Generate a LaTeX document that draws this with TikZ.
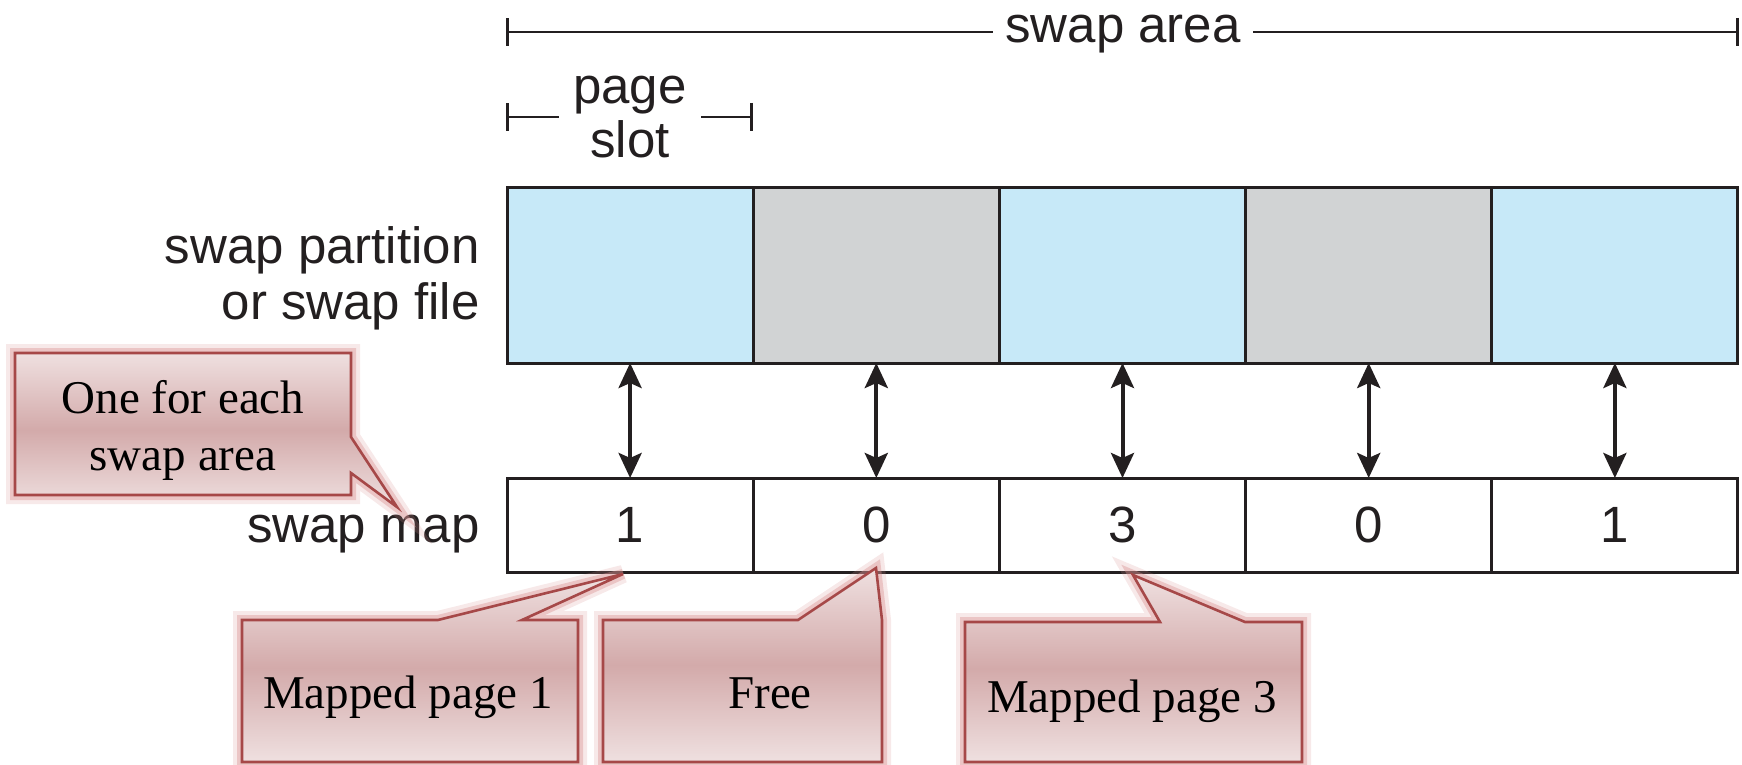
\documentclass[tikz,border=0pt]{standalone}
\usepackage{fontspec}
\setmainfont{Liberation Sans}
\newfontfamily\calloutfont{Liberation Serif}
\usetikzlibrary{arrows.meta}
\definecolor{slotblue}{HTML}{C7E9F8}
\definecolor{slotgray}{HTML}{D1D3D4}
\definecolor{ink}{HTML}{231F20}
\definecolor{calloutedge}{HTML}{A64848}
\definecolor{calloutlight}{HTML}{EFE0E0}
\definecolor{calloutdark}{HTML}{D3AAAA}
\definecolor{calloutglow}{HTML}{D89090}
\begin{document}
\begin{tikzpicture}[x=0.5pt,y=-0.5pt,
  label/.style={font=\fontsize{25.5}{28}\selectfont,text=ink,inner sep=0pt},
  slot/.style={draw=ink,line width=1.5pt,minimum width=123pt,minimum height=87.5pt,outer sep=0pt,inner sep=0pt},
  mapcell/.style={slot,minimum height=47pt,fill=white,font=\fontsize{25.5}{28}\selectfont,text=ink},
  link/.style={ink,line width=2pt,{Stealth[length=12.5pt,width=11.5pt,inset=2.5pt]}-{Stealth[length=12.5pt,width=11.5pt,inset=2.5pt]}},
  dim/.style={ink,line width=1.3pt,{Bar[width=14pt]}-{Bar[width=14pt]}},
  callout/.style={draw=calloutedge,line width=1.3pt,top color=calloutlight,bottom color=calloutlight,middle color=calloutdark,
    preaction={draw=calloutglow,line width=9pt,opacity=0.2},
    preaction={draw=calloutglow,line width=5pt,opacity=0.4}},
  callouttext/.style={font=\calloutfont\fontsize{23.5}{28.5}\selectfont,align=center,inner sep=0pt}]
\useasboundingbox (0,0) rectangle (1742,765);
% dimension lines
\coordinate (areaL) at (506,32);
\coordinate (areaR) at (1739,32);
\draw[dim] (areaL) -- (areaR);
\node[label,fill=white,inner xsep=6pt,anchor=base] (areatext) at (1123,43) {swap area};
\coordinate (slotL) at (506,117);
\coordinate (slotR) at (753,117);
\draw[dim] (slotL) -- (slotR);
\node[label,fill=white,inner xsep=7pt,align=center,font=\fontsize{25.5}{27}\selectfont] (slottext) at (630,117) {page\\slot};
% slots and swap map
\foreach \i/\c/\v in {1/slotblue/1,2/slotgray/0,3/slotblue/3,4/slotgray/0,5/slotblue/1} {
  \node[slot,fill=\c] (part\i) at ({507+246.2*(\i-0.5)},275.5) {};
  \node[mapcell] (map\i) at ({507+246.2*(\i-0.5)},525) {\v};
  \draw[link] (part\i) -- (map\i);
}
\node[label,align=right,anchor=east] (parttext) at (480,278) {swap partition\\or swap file};
\node[label,anchor=base east] (maptext) at (480,542) {swap map};
% callouts
\draw[callout] (15,353) -- (351,353) -- (351,437) -- (397,507) -- (351,473) -- (351,495) -- (15,495) -- cycle;
\node[callouttext] (eachtext) at (183,430) {One for each\\swap area};
\draw[callout] (242,620) -- (438,620) -- (623,574) -- (522,620) -- (578,620) -- (578,762) -- (242,762) -- cycle;
\node[callouttext] (page1text) at (408,697) {Mapped page 1};
\draw[callout] (603,620) -- (798,620) -- (876,568) -- (882,620) -- (882,762) -- (603,762) -- cycle;
\node[callouttext] (freetext) at (770,693) {Free};
\draw[callout] (965,622) -- (1160,622) -- (1133,575) -- (1245,622) -- (1302,622) -- (1302,762) -- (965,762) -- cycle;
\node[callouttext] (page3text) at (1132,701) {Mapped page 3};
\end{tikzpicture}
\end{document}
